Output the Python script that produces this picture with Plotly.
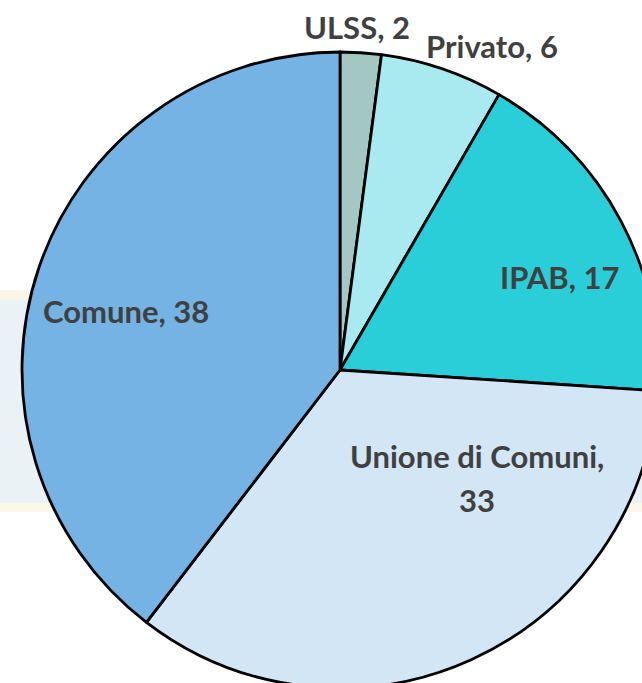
import plotly.graph_objects as go

labels = ["ULSS", "Privato", "IPAB", "Unione di Comuni", "Comune"]
values = [2, 6, 17, 33, 38]
colors = ["#a3c8c3", "#a9eaf0", "#29ced8", "#d2e6f5", "#74b3e3"]

W, H = 680, 740
cx, cy, r = 340, 370, 318

# label centres in page pixels (x, y); Unione label is split over two lines
label_pos = {
    "ULSS": [(357, 27)],
    "Privato": [(492, 46)],
    "IPAB": [(560, 277)],
    "Unione di Comuni": [(477, 456), (477, 500)],
    "Comune": [(126, 311)],
}

fig = go.Figure(go.Pie(
    labels=labels, values=values, sort=False, direction="clockwise", rotation=0,
    marker=dict(colors=colors, line=dict(color="#000000", width=2.8)),
    textinfo="none",
    domain=dict(x=[(cx - r) / W, (cx + r) / W], y=[1 - (cy + r) / H, 1 - (cy - r) / H]),
    showlegend=False, hoverinfo="label+value",
))

annotations = []
for lab, val in zip(labels, values):
    pos = label_pos[lab]
    texts = [f"{lab}, {val}"] if len(pos) == 1 else [f"{lab},", f"{val}"]
    for (px, py), t in zip(pos, texts):
        annotations.append(dict(
            x=px / W, y=1 - py / H, xref="paper", yref="paper", text=t,
            showarrow=False, xanchor="center", yanchor="middle",
            font=dict(family="Lato", size=31, color="#404040", weight="bold"),
        ))

fig.update_layout(
    width=W, height=H, margin=dict(l=0, r=0, t=0, b=0),
    paper_bgcolor="#ffffff", plot_bgcolor="#ffffff",
    font=dict(family="Lato", color="#404040"),
    annotations=annotations,
    shapes=[
        dict(type="rect", xref="paper", yref="paper", x0=0, x1=1,
             y0=1 - 505 / H, y1=1 - 298 / H, fillcolor="#eaf2f6", line=dict(width=0), layer="below"),
        dict(type="rect", xref="paper", yref="paper", x0=0, x1=1,
             y0=1 - 300 / H, y1=1 - 290 / H, fillcolor="#f9f6e8", line=dict(width=0), layer="below"),
        dict(type="rect", xref="paper", yref="paper", x0=0, x1=1,
             y0=1 - 512 / H, y1=1 - 503 / H, fillcolor="#fbf8ea", line=dict(width=0), layer="below"),
    ],
)

fig.write_html("out.html", config={"displayModeBar": False},
               post_script="document.body.style.margin='0';document.body.style.overflow='hidden';document.documentElement.style.overflow='hidden';")
